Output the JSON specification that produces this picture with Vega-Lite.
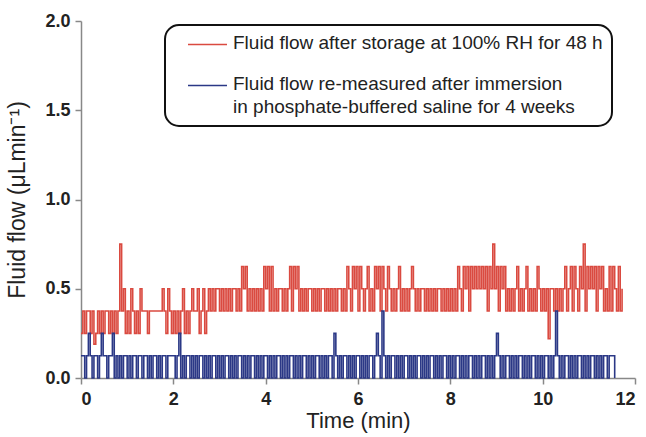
{
  "$schema": "https://vega.github.io/schema/vega-lite/v6.json",
  "width": 554,
  "height": 357,
  "autosize": {"type": "none"},
  "padding": {"left": 81, "top": 21, "right": 11, "bottom": 59},
  "background": "white",
  "config": {"view": {"stroke": null}, "font": "Liberation Sans"},
  "datasets": {
    "red": [
      {"t":0.00,"v":0.25},{"t":0.04,"v":0.375},{"t":0.08,"v":0.25},{"t":0.12,"v":0.375},{"t":0.16,"v":0.375},
      {"t":0.20,"v":0.25},{"t":0.24,"v":0.375},{"t":0.28,"v":0.19},{"t":0.32,"v":0.25},{"t":0.36,"v":0.375},
      {"t":0.40,"v":0.25},{"t":0.44,"v":0.375},{"t":0.48,"v":0.25},{"t":0.52,"v":0.375},{"t":0.56,"v":0.375},
      {"t":0.60,"v":0.25},{"t":0.64,"v":0.375},{"t":0.68,"v":0.25},{"t":0.72,"v":0.375},{"t":0.76,"v":0.25},
      {"t":0.80,"v":0.375},{"t":0.84,"v":0.75},{"t":0.88,"v":0.375},{"t":0.92,"v":0.5},{"t":0.96,"v":0.25},
      {"t":1.00,"v":0.375},{"t":1.04,"v":0.25},{"t":1.08,"v":0.5},{"t":1.12,"v":0.375},{"t":1.16,"v":0.25},
      {"t":1.20,"v":0.375},{"t":1.24,"v":0.25},{"t":1.28,"v":0.5},{"t":1.32,"v":0.375},{"t":1.36,"v":0.375},
      {"t":1.40,"v":0.375},{"t":1.44,"v":0.25},{"t":1.48,"v":0.375},{"t":1.52,"v":0.375},{"t":1.56,"v":0.375},
      {"t":1.60,"v":0.375},{"t":1.64,"v":0.375},{"t":1.68,"v":0.375},{"t":1.72,"v":0.375},{"t":1.76,"v":0.5},
      {"t":1.80,"v":0.375},{"t":1.84,"v":0.25},{"t":1.88,"v":0.5},{"t":1.92,"v":0.375},{"t":1.96,"v":0.25},
      {"t":2.00,"v":0.375},{"t":2.04,"v":0.25},{"t":2.08,"v":0.375},{"t":2.12,"v":0.25},{"t":2.16,"v":0.375},
      {"t":2.20,"v":0.5},{"t":2.24,"v":0.25},{"t":2.28,"v":0.375},{"t":2.32,"v":0.25},{"t":2.36,"v":0.375},
      {"t":2.40,"v":0.5},{"t":2.44,"v":0.375},{"t":2.48,"v":0.375},{"t":2.52,"v":0.5},{"t":2.56,"v":0.25},
      {"t":2.60,"v":0.375},{"t":2.64,"v":0.5},{"t":2.68,"v":0.25},{"t":2.72,"v":0.375},{"t":2.76,"v":0.5},
      {"t":2.80,"v":0.375},{"t":2.84,"v":0.5},{"t":2.88,"v":0.375},{"t":2.92,"v":0.5},{"t":2.96,"v":0.5},
      {"t":3.00,"v":0.375},{"t":3.04,"v":0.5},{"t":3.08,"v":0.375},{"t":3.12,"v":0.5},{"t":3.16,"v":0.375},
      {"t":3.20,"v":0.5},{"t":3.24,"v":0.375},{"t":3.28,"v":0.5},{"t":3.32,"v":0.5},{"t":3.36,"v":0.375},
      {"t":3.40,"v":0.5},{"t":3.44,"v":0.375},{"t":3.48,"v":0.625},{"t":3.52,"v":0.5},{"t":3.56,"v":0.625},
      {"t":3.60,"v":0.375},{"t":3.64,"v":0.5},{"t":3.68,"v":0.375},{"t":3.72,"v":0.5},{"t":3.76,"v":0.375},
      {"t":3.80,"v":0.5},{"t":3.84,"v":0.375},{"t":3.88,"v":0.5},{"t":3.92,"v":0.375},{"t":3.96,"v":0.625},
      {"t":4.00,"v":0.5},{"t":4.04,"v":0.625},{"t":4.08,"v":0.375},{"t":4.12,"v":0.625},{"t":4.16,"v":0.375},
      {"t":4.20,"v":0.5},{"t":4.24,"v":0.375},{"t":4.28,"v":0.5},{"t":4.32,"v":0.5},{"t":4.36,"v":0.375},
      {"t":4.40,"v":0.5},{"t":4.44,"v":0.375},{"t":4.48,"v":0.5},{"t":4.52,"v":0.625},{"t":4.56,"v":0.375},
      {"t":4.60,"v":0.625},{"t":4.64,"v":0.5},{"t":4.68,"v":0.625},{"t":4.72,"v":0.375},{"t":4.76,"v":0.5},
      {"t":4.80,"v":0.375},{"t":4.84,"v":0.5},{"t":4.88,"v":0.375},{"t":4.92,"v":0.5},{"t":4.96,"v":0.5},
      {"t":5.00,"v":0.375},{"t":5.04,"v":0.5},{"t":5.08,"v":0.375},{"t":5.12,"v":0.5},{"t":5.16,"v":0.375},
      {"t":5.20,"v":0.5},{"t":5.24,"v":0.5},{"t":5.28,"v":0.375},{"t":5.32,"v":0.5},{"t":5.36,"v":0.375},
      {"t":5.40,"v":0.5},{"t":5.44,"v":0.375},{"t":5.48,"v":0.5},{"t":5.52,"v":0.375},{"t":5.56,"v":0.5},
      {"t":5.60,"v":0.5},{"t":5.64,"v":0.375},{"t":5.68,"v":0.5},{"t":5.72,"v":0.375},{"t":5.76,"v":0.625},
      {"t":5.80,"v":0.5},{"t":5.84,"v":0.375},{"t":5.88,"v":0.625},{"t":5.92,"v":0.5},{"t":5.96,"v":0.625},
      {"t":6.00,"v":0.375},{"t":6.04,"v":0.625},{"t":6.08,"v":0.5},{"t":6.12,"v":0.375},{"t":6.16,"v":0.5},
      {"t":6.20,"v":0.625},{"t":6.24,"v":0.375},{"t":6.28,"v":0.5},{"t":6.32,"v":0.375},{"t":6.36,"v":0.625},
      {"t":6.40,"v":0.5},{"t":6.44,"v":0.625},{"t":6.48,"v":0.375},{"t":6.52,"v":0.625},{"t":6.56,"v":0.5},
      {"t":6.60,"v":0.375},{"t":6.64,"v":0.625},{"t":6.68,"v":0.5},{"t":6.72,"v":0.375},{"t":6.76,"v":0.5},
      {"t":6.80,"v":0.375},{"t":6.84,"v":0.5},{"t":6.88,"v":0.625},{"t":6.92,"v":0.375},{"t":6.96,"v":0.5},
      {"t":7.00,"v":0.375},{"t":7.04,"v":0.5},{"t":7.08,"v":0.375},{"t":7.12,"v":0.5},{"t":7.16,"v":0.625},
      {"t":7.20,"v":0.5},{"t":7.24,"v":0.375},{"t":7.28,"v":0.5},{"t":7.32,"v":0.375},{"t":7.36,"v":0.5},
      {"t":7.40,"v":0.5},{"t":7.44,"v":0.375},{"t":7.48,"v":0.5},{"t":7.52,"v":0.375},{"t":7.56,"v":0.5},
      {"t":7.60,"v":0.375},{"t":7.64,"v":0.5},{"t":7.68,"v":0.375},{"t":7.72,"v":0.5},{"t":7.76,"v":0.5},
      {"t":7.80,"v":0.375},{"t":7.84,"v":0.5},{"t":7.88,"v":0.375},{"t":7.92,"v":0.5},{"t":7.96,"v":0.375},
      {"t":8.00,"v":0.5},{"t":8.04,"v":0.375},{"t":8.08,"v":0.5},{"t":8.12,"v":0.375},{"t":8.16,"v":0.625},
      {"t":8.20,"v":0.5},{"t":8.24,"v":0.375},{"t":8.28,"v":0.625},{"t":8.32,"v":0.5},{"t":8.36,"v":0.625},
      {"t":8.40,"v":0.375},{"t":8.44,"v":0.625},{"t":8.48,"v":0.5},{"t":8.52,"v":0.625},{"t":8.56,"v":0.5},
      {"t":8.60,"v":0.625},{"t":8.64,"v":0.5},{"t":8.68,"v":0.625},{"t":8.72,"v":0.5},{"t":8.76,"v":0.625},
      {"t":8.80,"v":0.375},{"t":8.84,"v":0.625},{"t":8.88,"v":0.5},{"t":8.92,"v":0.75},{"t":8.96,"v":0.5},
      {"t":9.00,"v":0.625},{"t":9.04,"v":0.375},{"t":9.08,"v":0.625},{"t":9.12,"v":0.5},{"t":9.16,"v":0.625},
      {"t":9.20,"v":0.375},{"t":9.24,"v":0.5},{"t":9.28,"v":0.375},{"t":9.32,"v":0.5},{"t":9.36,"v":0.375},
      {"t":9.40,"v":0.5},{"t":9.44,"v":0.625},{"t":9.48,"v":0.375},{"t":9.52,"v":0.5},{"t":9.56,"v":0.375},
      {"t":9.60,"v":0.5},{"t":9.64,"v":0.625},{"t":9.68,"v":0.375},{"t":9.72,"v":0.5},{"t":9.76,"v":0.375},
      {"t":9.80,"v":0.5},{"t":9.84,"v":0.375},{"t":9.88,"v":0.625},{"t":9.92,"v":0.5},{"t":9.96,"v":0.375},
      {"t":10.00,"v":0.5},{"t":10.04,"v":0.375},{"t":10.08,"v":0.5},{"t":10.12,"v":0.22},{"t":10.16,"v":0.5},
      {"t":10.20,"v":0.5},{"t":10.24,"v":0.375},{"t":10.28,"v":0.5},{"t":10.32,"v":0.375},{"t":10.36,"v":0.5},
      {"t":10.40,"v":0.375},{"t":10.44,"v":0.5},{"t":10.48,"v":0.625},{"t":10.52,"v":0.375},{"t":10.56,"v":0.5},
      {"t":10.60,"v":0.625},{"t":10.64,"v":0.375},{"t":10.68,"v":0.625},{"t":10.72,"v":0.5},{"t":10.76,"v":0.375},
      {"t":10.80,"v":0.625},{"t":10.84,"v":0.5},{"t":10.88,"v":0.75},{"t":10.92,"v":0.375},{"t":10.96,"v":0.625},
      {"t":11.00,"v":0.5},{"t":11.04,"v":0.625},{"t":11.08,"v":0.5},{"t":11.12,"v":0.625},{"t":11.16,"v":0.375},
      {"t":11.20,"v":0.625},{"t":11.24,"v":0.5},{"t":11.28,"v":0.625},{"t":11.32,"v":0.375},{"t":11.36,"v":0.5},
      {"t":11.40,"v":0.375},{"t":11.44,"v":0.625},{"t":11.48,"v":0.375},{"t":11.52,"v":0.625},{"t":11.56,"v":0.5},
      {"t":11.60,"v":0.375},{"t":11.64,"v":0.625},{"t":11.68,"v":0.375},{"t":11.72,"v":0.5}
    ],
    "blue": [
      {"t":0.00,"v":0.125},{"t":0.04,"v":0.125},{"t":0.08,"v":0},{"t":0.12,"v":0.125},{"t":0.16,"v":0.25},
      {"t":0.20,"v":0.125},{"t":0.24,"v":0},{"t":0.28,"v":0.125},{"t":0.32,"v":0.125},{"t":0.36,"v":0},
      {"t":0.40,"v":0.125},{"t":0.44,"v":0.25},{"t":0.48,"v":0.125},{"t":0.52,"v":0.125},{"t":0.56,"v":0},
      {"t":0.60,"v":0.125},{"t":0.64,"v":0.125},{"t":0.68,"v":0.25},{"t":0.72,"v":0},{"t":0.76,"v":0.125},
      {"t":0.80,"v":0},{"t":0.84,"v":0.125},{"t":0.88,"v":0},{"t":0.92,"v":0.125},{"t":0.96,"v":0.125},
      {"t":1.00,"v":0},{"t":1.04,"v":0.125},{"t":1.08,"v":0},{"t":1.12,"v":0.125},{"t":1.16,"v":0.125},
      {"t":1.20,"v":0},{"t":1.24,"v":0.125},{"t":1.28,"v":0.125},{"t":1.32,"v":0},{"t":1.36,"v":0.125},
      {"t":1.40,"v":0.125},{"t":1.44,"v":0},{"t":1.48,"v":0.125},{"t":1.52,"v":0},{"t":1.56,"v":0.125},
      {"t":1.60,"v":0.125},{"t":1.64,"v":0},{"t":1.68,"v":0.125},{"t":1.72,"v":0},{"t":1.76,"v":0.125},
      {"t":1.80,"v":0.125},{"t":1.84,"v":0},{"t":1.88,"v":0.125},{"t":1.92,"v":0.125},{"t":1.96,"v":0.125},
      {"t":2.00,"v":0.125},{"t":2.04,"v":0},{"t":2.08,"v":0.125},{"t":2.12,"v":0.25},{"t":2.16,"v":0},
      {"t":2.20,"v":0.125},{"t":2.24,"v":0},{"t":2.28,"v":0.125},{"t":2.32,"v":0.125},{"t":2.36,"v":0},
      {"t":2.40,"v":0.125},{"t":2.44,"v":0},{"t":2.48,"v":0.125},{"t":2.52,"v":0},{"t":2.56,"v":0.125},
      {"t":2.60,"v":0.125},{"t":2.64,"v":0},{"t":2.68,"v":0.125},{"t":2.72,"v":0},{"t":2.76,"v":0.125},
      {"t":2.80,"v":0},{"t":2.84,"v":0.125},{"t":2.88,"v":0.125},{"t":2.92,"v":0},{"t":2.96,"v":0.125},
      {"t":3.00,"v":0},{"t":3.04,"v":0.125},{"t":3.08,"v":0},{"t":3.12,"v":0.125},{"t":3.16,"v":0.125},
      {"t":3.20,"v":0},{"t":3.24,"v":0.125},{"t":3.28,"v":0},{"t":3.32,"v":0.125},{"t":3.36,"v":0},
      {"t":3.40,"v":0.125},{"t":3.44,"v":0.125},{"t":3.48,"v":0},{"t":3.52,"v":0.125},{"t":3.56,"v":0},
      {"t":3.60,"v":0.125},{"t":3.64,"v":0},{"t":3.68,"v":0.125},{"t":3.72,"v":0.125},{"t":3.76,"v":0},
      {"t":3.80,"v":0.125},{"t":3.84,"v":0},{"t":3.88,"v":0.125},{"t":3.92,"v":0},{"t":3.96,"v":0.125},
      {"t":4.00,"v":0.125},{"t":4.04,"v":0},{"t":4.08,"v":0.125},{"t":4.12,"v":0},{"t":4.16,"v":0.125},
      {"t":4.20,"v":0},{"t":4.24,"v":0.125},{"t":4.28,"v":0.125},{"t":4.32,"v":0},{"t":4.36,"v":0.125},
      {"t":4.40,"v":0},{"t":4.44,"v":0.125},{"t":4.48,"v":0},{"t":4.52,"v":0.125},{"t":4.56,"v":0.125},
      {"t":4.60,"v":0},{"t":4.64,"v":0.125},{"t":4.68,"v":0},{"t":4.72,"v":0.125},{"t":4.76,"v":0},
      {"t":4.80,"v":0.125},{"t":4.84,"v":0.125},{"t":4.88,"v":0},{"t":4.92,"v":0.125},{"t":4.96,"v":0},
      {"t":5.00,"v":0.125},{"t":5.04,"v":0},{"t":5.08,"v":0.125},{"t":5.12,"v":0.125},{"t":5.16,"v":0},
      {"t":5.20,"v":0.125},{"t":5.24,"v":0},{"t":5.28,"v":0.125},{"t":5.32,"v":0},{"t":5.36,"v":0.125},
      {"t":5.40,"v":0.125},{"t":5.44,"v":0},{"t":5.48,"v":0.25},{"t":5.52,"v":0.125},{"t":5.56,"v":0},
      {"t":5.60,"v":0.125},{"t":5.64,"v":0},{"t":5.68,"v":0.125},{"t":5.72,"v":0.125},{"t":5.76,"v":0},
      {"t":5.80,"v":0.125},{"t":5.84,"v":0},{"t":5.88,"v":0.125},{"t":5.92,"v":0},{"t":5.96,"v":0.125},
      {"t":6.00,"v":0.125},{"t":6.04,"v":0},{"t":6.08,"v":0.125},{"t":6.12,"v":0},{"t":6.16,"v":0.125},
      {"t":6.20,"v":0},{"t":6.24,"v":0.125},{"t":6.28,"v":0.125},{"t":6.32,"v":0},{"t":6.36,"v":0.125},
      {"t":6.40,"v":0.25},{"t":6.44,"v":0.125},{"t":6.48,"v":0},{"t":6.52,"v":0.375},{"t":6.56,"v":0.125},
      {"t":6.60,"v":0},{"t":6.64,"v":0.125},{"t":6.68,"v":0},{"t":6.72,"v":0.125},{"t":6.76,"v":0.125},
      {"t":6.80,"v":0},{"t":6.84,"v":0.125},{"t":6.88,"v":0},{"t":6.92,"v":0.125},{"t":6.96,"v":0},
      {"t":7.00,"v":0.125},{"t":7.04,"v":0.125},{"t":7.08,"v":0},{"t":7.12,"v":0.125},{"t":7.16,"v":0},
      {"t":7.20,"v":0.125},{"t":7.24,"v":0},{"t":7.28,"v":0.125},{"t":7.32,"v":0.125},{"t":7.36,"v":0},
      {"t":7.40,"v":0.125},{"t":7.44,"v":0},{"t":7.48,"v":0.125},{"t":7.52,"v":0},{"t":7.56,"v":0.125},
      {"t":7.60,"v":0.125},{"t":7.64,"v":0},{"t":7.68,"v":0.125},{"t":7.72,"v":0},{"t":7.76,"v":0.125},
      {"t":7.80,"v":0},{"t":7.84,"v":0.125},{"t":7.88,"v":0.125},{"t":7.92,"v":0},{"t":7.96,"v":0.125},
      {"t":8.00,"v":0},{"t":8.04,"v":0.125},{"t":8.08,"v":0},{"t":8.12,"v":0.125},{"t":8.16,"v":0.125},
      {"t":8.20,"v":0},{"t":8.24,"v":0.125},{"t":8.28,"v":0},{"t":8.32,"v":0.125},{"t":8.36,"v":0},
      {"t":8.40,"v":0.125},{"t":8.44,"v":0.125},{"t":8.48,"v":0},{"t":8.52,"v":0.125},{"t":8.56,"v":0},
      {"t":8.60,"v":0.125},{"t":8.64,"v":0},{"t":8.68,"v":0.125},{"t":8.72,"v":0.125},{"t":8.76,"v":0},
      {"t":8.80,"v":0.125},{"t":8.84,"v":0},{"t":8.88,"v":0.125},{"t":8.92,"v":0},{"t":8.96,"v":0.125},
      {"t":9.00,"v":0.25},{"t":9.04,"v":0.125},{"t":9.08,"v":0},{"t":9.12,"v":0.125},{"t":9.16,"v":0},
      {"t":9.20,"v":0.125},{"t":9.24,"v":0.125},{"t":9.28,"v":0},{"t":9.32,"v":0.125},{"t":9.36,"v":0},
      {"t":9.40,"v":0.125},{"t":9.44,"v":0},{"t":9.48,"v":0.125},{"t":9.52,"v":0.125},{"t":9.56,"v":0},
      {"t":9.60,"v":0.125},{"t":9.64,"v":0},{"t":9.68,"v":0.125},{"t":9.72,"v":0},{"t":9.76,"v":0.125},
      {"t":9.80,"v":0.125},{"t":9.84,"v":0},{"t":9.88,"v":0.125},{"t":9.92,"v":0},{"t":9.96,"v":0.125},
      {"t":10.00,"v":0},{"t":10.04,"v":0.125},{"t":10.08,"v":0.125},{"t":10.12,"v":0},{"t":10.16,"v":0.125},
      {"t":10.20,"v":0},{"t":10.24,"v":0.125},{"t":10.28,"v":0.375},{"t":10.32,"v":0.125},{"t":10.36,"v":0},
      {"t":10.40,"v":0.125},{"t":10.44,"v":0},{"t":10.48,"v":0.125},{"t":10.52,"v":0.125},{"t":10.56,"v":0},
      {"t":10.60,"v":0.125},{"t":10.64,"v":0},{"t":10.68,"v":0.125},{"t":10.72,"v":0},{"t":10.76,"v":0.125},
      {"t":10.80,"v":0.125},{"t":10.84,"v":0},{"t":10.88,"v":0.125},{"t":10.92,"v":0},{"t":10.96,"v":0.125},
      {"t":11.00,"v":0},{"t":11.04,"v":0.125},{"t":11.08,"v":0.125},{"t":11.12,"v":0},{"t":11.16,"v":0.125},
      {"t":11.20,"v":0},{"t":11.24,"v":0.125},{"t":11.28,"v":0},{"t":11.32,"v":0.125},{"t":11.36,"v":0.125},
      {"t":11.40,"v":0},{"t":11.44,"v":0.125},{"t":11.48,"v":0.125},{"t":11.52,"v":0.125},{"t":11.56,"v":0}
    ]
  },
  "encoding": {
    "x": {
      "field": "t", "type": "quantitative",
      "scale": {"domain": [0, 12], "nice": false, "zero": false},
      "axis": {
        "values": [0, 2, 4, 6, 8, 10, 12], "format": "d", "grid": false,
        "title": "Time (min)", "titleFont": "Liberation Sans", "titleFontSize": 22, "titleFontWeight": "normal", "titleColor": "#222", "titlePadding": 2,
        "labelFont": "Liberation Sans", "labelFontSize": 18, "labelFontWeight": "bold", "labelColor": "#222", "labelPadding": 6,
        "domainColor": "#888", "domainWidth": 1.5, "tickColor": "#888", "tickSize": 6, "tickWidth": 1.5
      }
    },
    "y": {
      "field": "v", "type": "quantitative",
      "scale": {"domain": [0, 2], "nice": false},
      "axis": {
        "values": [0, 0.5, 1, 1.5, 2], "format": ".1f", "grid": false,
        "title": "Fluid flow (μLmin⁻¹)", "titleFont": "Liberation Sans", "titleFontSize": 23, "titleFontWeight": "normal", "titleColor": "#222", "titlePadding": 15,
        "labelFont": "Liberation Sans", "labelFontSize": 18, "labelFontWeight": "bold", "labelColor": "#222", "labelPadding": 5,
        "domainColor": "#888", "domainWidth": 1.5, "tickColor": "#888", "tickSize": 6, "tickWidth": 1.5
      }
    }
  },
  "layer": [
    {
      "data": {"name": "red"},
      "mark": {"type": "line", "interpolate": "step-after", "strokeWidth": 1.6},
      "encoding": {
        "color": {
          "datum": "A",
          "scale": {"domain": ["A", "B"], "range": ["#da4a40", "#2b3886"]},
          "legend": {
            "orient": "none", "legendX": 84, "legendY": 4,
            "title": null,
            "labelExpr": "datum.label == 'A' ? 'Fluid flow after storage at 100% RH for 48 h' : ['Fluid flow re-measured after immersion', 'in phosphate-buffered saline for 4 weeks']",
            "labelFont": "Liberation Sans", "labelFontSize": 19, "labelColor": "#222", "labelLimit": 600, "labelOffset": 15,
            "labelBaseline": "top",
            "symbolType": "M-2,0H2", "symbolSize": 380, "symbolStrokeWidth": 1.5, "symbolOffset": 23,
            "strokeColor": "#111", "cornerRadius": 14, "padding": 9, "rowPadding": 21, "fillColor": "white",
            "encode": {
              "legend": {"update": {"strokeWidth": {"value": 2}}},
              "labels": {"update": {"dy": {"value": -11}, "lineHeight": {"value": 23}}}
            }
          }
        }
      }
    },
    {
      "data": {"name": "blue"},
      "mark": {"type": "line", "interpolate": "step-after", "strokeWidth": 1.6},
      "encoding": {"color": {"datum": "B"}}
    }
  ]
}
